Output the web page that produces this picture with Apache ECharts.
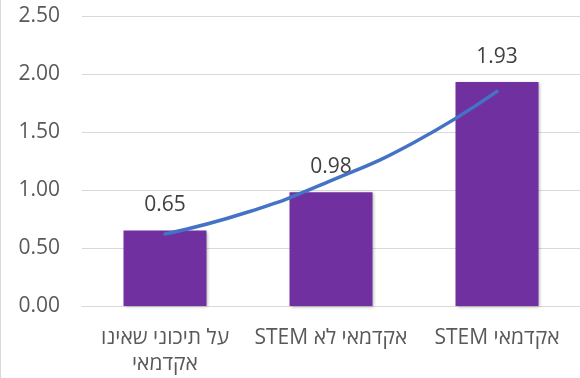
<!DOCTYPE html>
<html>
<head>
<meta charset="utf-8">
<script src="https://cdn.jsdelivr.net/npm/echarts@6/dist/echarts.min.js"></script>
<style>
  html, body { margin: 0; padding: 0; background: #ffffff; }
  #chart { width: 580px; height: 378px; direction: rtl; }
</style>
</head>
<body>
<div id="chart"></div>
<script>
// Category labels (Hebrew, right-to-left)
const categories = ['על תיכוני שאינו\nאקדמאי', 'אקדמאי לא STEM', 'אקדמאי STEM'];
// Bar values
const values = [0.65, 0.98, 1.93];
// Exponential trendline sampled at category positions 1..3
const trendX = [1, 1.5, 2, 2.5, 3];
const trendY = [0.62, 0.81, 1.08, 1.41, 1.85];
// Y axis ticks
const yTicks = [0, 0.5, 1, 1.5, 2, 2.5];

const font = "'Open Sans', 'DejaVu Sans', sans-serif";
const chart = echarts.init(document.getElementById('chart'), null, { renderer: 'canvas' });

chart.setOption({
  animation: false,
  backgroundColor: '#ffffff',
  grid: { left: 82, right: -3, top: 16, bottom: 72 },
  xAxis: [
    {
      type: 'category',
      data: categories,
      axisLine: { show: true, lineStyle: { color: '#d9d9d9', width: 1 } },
      axisTick: { show: false },
      axisLabel: {
        color: '#595959', fontSize: 21, fontFamily: font,
        margin: 19, lineHeight: 26, interval: 0
      }
    },
    {
      type: 'value', min: 0.5, max: 3.5, show: false
    }
  ],
  yAxis: {
    type: 'value',
    min: yTicks[0],
    max: yTicks[yTicks.length - 1],
    interval: 0.5,
    axisLine: { show: false },
    axisTick: { show: false },
    splitLine: { lineStyle: { color: '#d9d9d9', width: 1 } },
    axisLabel: {
      color: '#595959', fontSize: 21, fontFamily: font, margin: 22,
      formatter: v => v.toFixed(2)
    }
  },
  series: [
    {
      type: 'bar',
      data: values,
      xAxisIndex: 0,
      barWidth: 83,
      itemStyle: {
        color: '#7030a0',
        shadowBlur: 3, shadowColor: 'rgba(0,0,0,0.3)',
        shadowOffsetX: 1, shadowOffsetY: 1
      },
      label: {
        show: true, position: 'top', distance: 15,
        color: '#404040', fontSize: 21, fontFamily: font,
        formatter: p => p.value.toFixed(2)
      },
      z: 2
    },
    {
      type: 'line',
      xAxisIndex: 1,
      data: trendX.map((x, i) => [x, trendY[i]]),
      smooth: true,
      symbol: 'none',
      lineStyle: { color: '#4472c4', width: 3.5, cap: 'round' },
      z: 3
    }
  ],
  graphic: [
    {
      type: 'line',
      shape: { x1: 0.5, y1: 0, x2: 0.5, y2: 378 },
      style: { stroke: '#d9d9d9', lineWidth: 1 },
      silent: true
    }
  ]
});
</script>
</body>
</html>
